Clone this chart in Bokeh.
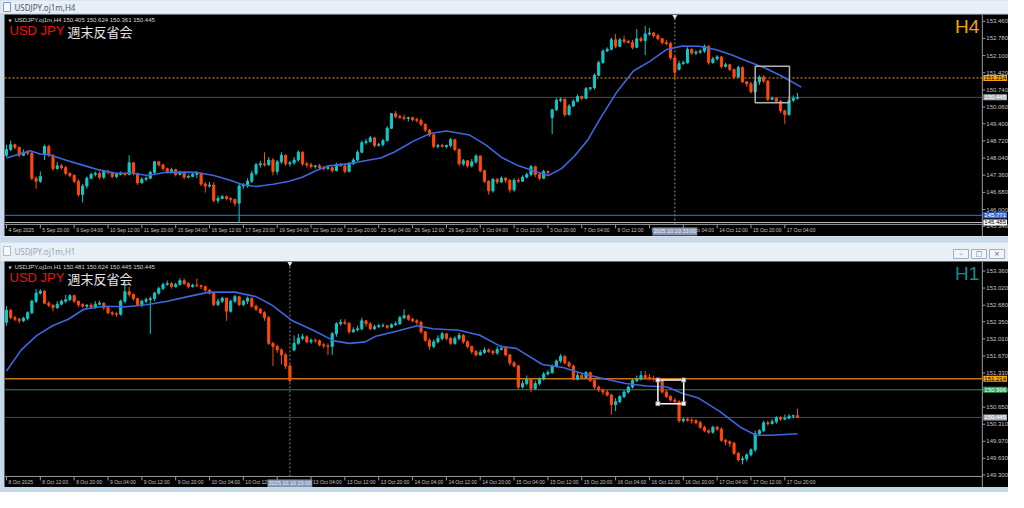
from bokeh.plotting import figure
from bokeh.models import Range1d, Label, LabelSet, ColumnDataSource
from bokeh.layouts import column
from bokeh.embed import file_html
from bokeh.resources import INLINE
from bokeh.core.properties import value

# ---------------- H4 panel data ----------------
h4_open = [148.15,148.38,148.57,148.46,148.15,148.27,148.23,147.24,147.12,148.19,148.50,148.15,147.62,147.73,147.66,147.43,147.35,147.12,146.59,146.93,
147.24,147.39,147.43,147.28,147.51,147.47,147.31,147.39,147.43,147.39,147.85,147.43,147.05,147.20,147.24,147.47,147.89,147.77,147.62,147.51,
147.58,147.39,147.47,147.28,147.31,147.39,147.43,147.01,146.93,146.97,146.36,146.44,146.51,146.44,146.40,146.25,146.93,146.97,147.12,147.43,
147.77,147.81,147.77,147.96,147.51,147.89,148.15,147.81,147.85,147.96,148.27,147.81,147.77,147.70,147.73,147.66,147.62,147.66,147.54,147.77,
147.73,147.51,147.81,147.96,148.27,148.65,148.69,148.84,148.54,148.57,148.73,149.22,149.80,149.68,149.64,149.61,149.64,149.57,149.53,149.38,
149.15,148.96,148.50,148.54,148.50,148.54,148.77,148.38,147.81,147.93,147.73,147.89,148.12,147.54,147.12,146.74,147.20,147.09,147.24,147.16,
146.78,147.16,147.12,147.28,147.39,147.70,147.39,147.24,147.51,149.64,149.95,150.33,150.37,149.76,150.10,150.29,150.48,150.41,150.79,150.83,
151.32,151.82,152.28,152.35,152.73,152.47,152.73,152.66,152.62,152.43,152.77,152.70,152.96,153.00,152.89,152.77,152.62,152.58,152.01,151.55,
151.78,151.82,152.35,152.20,152.24,152.28,152.47,151.82,151.97,152.05,151.67,151.74,151.55,151.25,151.63,151.06,150.98,150.67,151.06,151.25,
151.09,150.37,150.41,150.29,149.91,149.76,150.33,150.41]
h4_high = [148.57,148.73,148.61,148.50,148.38,148.35,148.31,147.31,147.51,148.57,148.57,148.19,147.89,147.81,147.73,147.47,147.39,147.20,147.01,147.31,
147.47,147.51,147.51,147.58,147.58,147.51,147.47,147.51,147.47,148.15,147.89,147.47,147.28,147.31,147.54,147.93,147.93,147.81,147.66,147.66,
147.62,147.54,147.51,147.39,147.47,147.51,147.47,147.09,147.09,147.09,146.55,146.59,146.55,146.48,146.44,147.05,147.05,147.24,147.54,147.85,
147.93,148.27,148.08,148.04,147.96,148.27,148.19,147.93,148.08,148.35,148.31,147.89,147.85,147.77,147.81,147.73,147.73,147.70,147.85,147.85,
147.81,147.89,148.04,148.35,148.73,148.80,148.92,148.88,148.65,148.80,149.30,149.83,149.91,149.76,149.76,149.68,149.68,149.64,149.61,149.41,
149.19,148.99,148.61,148.61,148.57,148.84,148.80,148.42,148.00,147.96,148.00,148.19,148.15,147.58,147.16,147.24,147.24,147.31,147.28,147.20,
147.24,147.24,147.35,147.47,147.77,147.73,147.43,147.58,147.54,149.99,150.41,150.44,150.41,150.18,150.37,150.56,150.52,150.86,150.86,151.40,
151.90,152.35,152.43,152.81,152.96,152.81,152.89,152.73,152.73,153.15,152.85,153.27,153.19,153.04,152.96,152.81,152.73,152.66,152.09,151.90,
151.90,152.43,152.39,152.31,152.35,152.54,152.51,152.05,152.12,152.09,151.82,151.78,151.59,151.70,151.67,151.09,151.06,151.13,151.32,151.32,
151.13,150.48,150.44,150.33,149.95,150.48,150.52,150.62]
h4_low = [148.08,148.31,148.38,148.08,148.12,148.15,147.16,146.82,147.05,147.96,148.08,147.54,147.58,147.58,147.35,147.28,147.05,146.51,146.28,146.82,
147.20,147.31,147.20,147.20,147.39,147.24,147.24,147.35,147.31,147.35,147.35,146.97,147.05,147.12,147.20,147.39,147.70,147.54,147.43,147.47,
147.31,147.35,147.20,147.24,147.28,147.24,146.93,146.67,146.86,146.28,146.25,146.40,146.36,146.28,146.13,145.48,146.82,146.86,147.05,147.35,
147.66,147.70,147.73,147.35,147.39,147.81,147.73,147.70,147.77,147.89,147.73,147.66,147.62,147.62,147.58,147.54,147.58,147.47,147.51,147.70,
147.43,147.47,147.77,147.93,148.23,148.57,148.65,148.46,148.50,148.50,148.69,149.19,149.61,149.61,149.53,149.49,149.49,149.45,149.30,149.07,
148.88,148.42,148.42,148.46,148.42,148.46,148.31,147.73,147.73,147.66,147.66,147.81,147.47,147.05,146.59,146.67,147.01,147.05,147.05,146.67,
146.70,147.05,147.09,147.24,147.31,147.28,147.16,147.20,147.39,148.99,149.91,150.25,149.68,149.72,150.06,150.25,150.33,150.37,150.71,150.75,
151.28,151.78,152.24,152.31,152.39,152.43,152.58,152.58,152.35,152.39,152.62,152.12,152.89,152.81,152.70,152.54,152.51,151.93,151.17,151.51,
151.74,151.78,152.12,152.12,152.16,152.20,151.74,151.78,151.90,151.59,151.63,151.48,151.17,151.21,151.02,150.86,150.60,150.60,150.94,151.02,
150.29,150.33,150.22,149.83,149.38,149.72,150.25,150.36]
h4_close = [148.38,148.57,148.46,148.15,148.27,148.23,147.24,147.12,147.31,148.50,148.15,147.62,147.73,147.66,147.43,147.35,147.12,146.59,146.93,147.24,
147.39,147.43,147.28,147.51,147.47,147.31,147.39,147.43,147.39,147.85,147.43,147.05,147.20,147.24,147.47,147.89,147.77,147.62,147.51,147.58,
147.39,147.47,147.28,147.31,147.39,147.43,147.01,146.93,146.97,146.36,146.44,146.51,146.44,146.40,146.25,146.93,146.97,147.12,147.43,147.77,
147.81,147.77,147.96,147.51,147.89,148.15,147.81,147.85,147.96,148.27,147.81,147.77,147.70,147.73,147.66,147.62,147.66,147.54,147.77,147.73,
147.51,147.81,147.96,148.27,148.65,148.69,148.84,148.54,148.57,148.73,149.22,149.80,149.68,149.64,149.61,149.64,149.57,149.53,149.38,149.15,
148.96,148.50,148.54,148.50,148.54,148.77,148.38,147.81,147.93,147.73,147.89,148.12,147.54,147.12,146.74,147.20,147.09,147.24,147.16,146.78,
147.16,147.12,147.28,147.39,147.70,147.39,147.24,147.51,147.47,149.95,150.33,150.37,149.76,150.10,150.29,150.48,150.41,150.79,150.83,151.32,
151.82,152.28,152.35,152.73,152.47,152.73,152.66,152.62,152.43,152.77,152.70,152.96,153.00,152.89,152.77,152.62,152.58,152.01,151.44,151.78,
151.82,152.35,152.20,152.24,152.28,152.47,151.82,151.97,152.05,151.67,151.74,151.55,151.25,151.63,151.06,150.98,150.67,151.06,151.25,151.09,
150.37,150.41,150.29,149.91,149.76,150.33,150.41,150.445]
h4_ma_idx = [0,5.6,7.9,10.2,14.1,18,21.9,25.7,29.6,33.5,37.4,41.2,45.1,49,52.9,56,59.1,63,66.8,69.9,73,76.1,80,82.3,85.4,88.5,91.6,94,96.3,
100.2,104,109.5,113.3,117.2,121.1,125,128.1,131.2,134.3,137.4,140.5,144.3,148.2,152.1,156,159.8,163.7,167.6,171.5,175.3,179.2,183.1,187.9]
h4_ma = [148.04,148.33,148.20,148.17,147.95,147.76,147.57,147.44,147.44,147.35,147.47,147.48,147.47,147.35,147.16,146.97,146.91,147.00,147.12,147.28,
147.53,147.73,147.80,147.85,147.95,148.04,148.27,148.50,148.72,149.01,149.11,148.95,148.56,148.05,147.73,147.51,147.35,147.62,148.12,148.75,
149.64,150.66,151.49,151.87,152.34,152.48,152.47,152.34,152.12,151.87,151.62,151.30,150.85]
h4_xtick_idx = [0,8,16,24,32,40,48,56,64,72,80,88,96,104,112,120,128,136,144,152,160,168,176,184]
h4_xtick_labels = ["4 Sep 2025","5 Sep 20:00","9 Sep 04:00","10 Sep 12:00","11 Sep 20:00","15 Sep 04:00","16 Sep 12:00","17 Sep 20:00",
"19 Sep 04:00","22 Sep 12:00","23 Sep 20:00","25 Sep 04:00","26 Sep 12:00","29 Sep 20:00","1 Oct 04:00","2 Oct 12:00","3 Oct 20:00",
"7 Oct 04:00","8 Oct 12:00","9 Oct 20:00","13 Oct 04:00","14 Oct 12:00","15 Oct 20:00","17 Oct 04:00"]
h4_yticks = [153.46,152.78,152.10,151.42,150.74,150.06,149.40,148.72,148.04,147.36,146.68,146.00,145.34]
h4_ytick_labels = ["153.460","152.780","152.100","151.420","150.740","150.060","149.400","148.720","148.040","147.360","146.680","146.000","145.340"]
h4_levels = [151.214, 150.445, 145.771, 145.485]
h4_level_text = ["151.214", "150.445", "145.771", "145.485"]
h4_box_idx = [177.0, 185.1]
h4_box_price = [151.68, 150.23]
h4_cross_idx = 158
h4_header = "USDJPY.oj1m,H4  150.405 150.624 150.361 150.445"

# ---------------- H1 panel data ----------------
h1_open = [152.34,152.58,152.43,152.40,152.37,152.42,152.53,152.76,152.92,152.96,152.72,152.68,152.63,152.70,152.76,152.79,152.87,152.76,152.69,152.66,
152.68,152.64,152.70,152.72,152.63,152.53,152.51,152.50,152.76,152.95,152.89,152.81,152.69,152.76,152.79,152.81,152.92,153.01,153.09,153.11,
153.05,153.09,153.17,153.11,153.05,153.08,153.07,153.05,152.98,152.92,152.69,152.76,152.82,152.56,152.76,152.85,152.69,152.76,152.82,152.66,
152.60,152.53,152.43,151.92,151.86,151.79,151.69,151.47,151.79,151.92,152.02,152.05,151.95,151.98,151.97,151.89,151.87,151.86,152.11,152.31,
152.34,152.32,152.15,152.19,152.21,152.37,152.31,152.21,152.25,152.27,152.27,152.24,152.29,152.31,152.43,152.47,152.40,152.37,152.34,152.15,
151.98,151.86,151.95,152.02,152.11,152.02,151.92,152.02,152.08,151.95,151.86,151.76,151.69,151.74,151.79,151.76,151.73,151.80,151.82,151.69,
151.53,151.47,151.05,151.12,151.21,151.02,151.12,151.21,151.31,151.34,151.47,151.57,151.66,151.53,151.47,151.21,151.28,151.24,151.34,151.18,
151.05,150.99,150.95,150.89,150.70,150.76,150.86,150.95,151.05,151.18,151.21,151.28,151.24,151.22,151.21,151.18,150.95,150.86,150.79,150.76,
150.38,150.41,150.39,150.38,150.34,150.25,150.18,150.15,150.25,150.21,149.99,149.96,149.93,149.73,149.60,149.62,149.70,149.80,150.12,150.18,
150.34,150.32,150.36,150.44,150.41,150.43,150.47,150.48]
h1_high = [152.66,152.60,152.47,152.43,152.45,152.56,152.79,153.00,153.00,152.98,152.76,152.70,152.76,152.79,152.89,152.90,152.89,152.77,152.72,152.70,
152.72,152.76,152.77,152.74,152.64,152.56,152.55,152.79,153.14,153.05,152.92,152.83,152.79,152.83,152.85,152.95,153.05,153.13,153.17,153.14,
153.13,153.22,153.21,153.14,153.11,153.21,153.09,153.07,153.00,152.94,152.81,152.85,152.83,152.79,152.89,152.87,152.79,152.85,152.83,152.69,
152.63,152.56,152.47,151.95,151.89,151.82,151.73,151.50,152.08,152.11,152.11,152.08,152.02,152.02,152.00,151.93,151.92,152.15,152.34,152.40,
152.40,152.34,152.24,152.27,152.43,152.38,152.34,152.29,152.31,152.32,152.29,152.32,152.36,152.47,152.60,152.50,152.43,152.40,152.37,152.16,
152.02,152.00,152.08,152.15,152.13,152.05,152.06,152.13,152.11,151.98,151.87,151.79,151.79,151.84,151.82,151.79,151.86,151.87,151.86,151.71,
151.57,151.50,151.18,151.28,151.24,151.18,151.24,151.35,151.39,151.50,151.60,151.71,151.69,151.57,151.50,151.33,151.31,151.37,151.35,151.21,
151.08,151.02,150.99,150.92,150.83,150.89,150.99,151.08,151.21,151.28,151.37,151.37,151.31,151.28,151.24,151.21,150.99,150.89,150.83,150.79,
150.44,150.44,150.43,150.41,150.38,150.28,150.21,150.28,150.28,150.25,150.02,149.99,149.96,149.76,149.67,149.73,149.83,150.18,150.21,150.38,
150.38,150.41,150.47,150.47,150.50,150.51,150.50,150.62]
h1_low = [152.27,152.40,152.36,152.32,152.34,152.38,152.50,152.72,152.89,152.70,152.64,152.56,152.60,152.68,152.72,152.76,152.72,152.64,152.63,152.60,
152.61,152.61,152.68,152.58,152.50,152.47,152.45,152.47,152.72,152.85,152.77,152.66,152.64,152.72,152.11,152.76,152.89,152.98,153.07,153.01,
153.03,153.07,153.08,153.01,153.03,153.04,153.00,152.95,152.89,152.66,152.66,152.72,152.37,152.53,152.72,152.66,152.66,152.70,152.63,152.56,
152.50,152.37,151.89,151.47,151.73,151.50,151.41,151.15,151.76,151.89,151.98,151.92,151.91,151.93,151.86,151.82,151.69,151.69,152.05,152.27,
152.29,152.11,152.13,152.16,152.18,152.25,152.18,152.19,152.23,152.24,152.21,152.22,152.27,152.29,152.40,152.37,152.34,152.29,152.11,151.95,
151.79,151.82,151.92,151.98,151.98,151.89,151.89,151.98,151.91,151.82,151.71,151.66,151.68,151.71,151.73,151.69,151.69,151.78,151.66,151.48,
151.44,151.01,151.02,151.08,150.95,150.99,151.08,151.18,151.28,151.31,151.44,151.53,151.50,151.44,151.18,151.18,151.21,151.21,151.15,151.01,
150.95,150.89,150.86,150.50,150.57,150.73,150.83,150.92,151.02,151.15,151.18,151.21,151.18,151.16,151.13,150.92,150.83,150.76,150.73,150.34,
150.34,150.36,150.32,150.31,150.21,150.15,150.12,150.12,150.18,149.96,149.89,149.86,149.70,149.57,149.51,149.57,149.67,149.76,150.09,150.15,
150.28,150.31,150.32,150.38,150.39,150.41,150.43,150.44]
h1_close = [152.58,152.43,152.40,152.37,152.42,152.53,152.76,152.92,152.96,152.72,152.68,152.63,152.70,152.76,152.79,152.87,152.76,152.69,152.66,152.68,
152.64,152.70,152.72,152.63,152.53,152.51,152.50,152.76,152.95,152.89,152.81,152.69,152.76,152.79,152.81,152.92,153.01,153.09,153.11,153.05,
153.09,153.17,153.11,153.05,153.08,153.07,153.05,152.98,152.92,152.69,152.76,152.82,152.56,152.76,152.85,152.69,152.76,152.82,152.66,152.60,
152.53,152.43,151.92,151.86,151.79,151.69,151.47,151.18,151.92,152.02,152.05,151.95,151.98,151.97,151.89,151.87,151.86,152.11,152.31,152.34,
152.32,152.15,152.19,152.21,152.37,152.31,152.21,152.25,152.27,152.27,152.24,152.29,152.31,152.43,152.47,152.40,152.37,152.34,152.15,151.98,
151.86,151.95,152.02,152.11,152.02,151.92,152.02,152.08,151.95,151.86,151.76,151.69,151.74,151.79,151.76,151.73,151.80,151.82,151.69,151.53,
151.47,151.05,151.12,151.21,151.02,151.12,151.21,151.31,151.34,151.47,151.57,151.66,151.53,151.47,151.21,151.28,151.24,151.34,151.18,151.05,
150.99,150.95,150.89,150.70,150.76,150.86,150.95,151.05,151.18,151.21,151.28,151.24,151.22,151.21,151.18,150.95,150.86,150.79,150.76,150.38,
150.41,150.39,150.38,150.34,150.25,150.18,150.15,150.25,150.21,149.99,149.96,149.93,149.73,149.60,149.62,149.70,149.80,150.12,150.18,150.34,
150.32,150.36,150.44,150.41,150.43,150.47,150.48,150.445]
h1_ma_idx = [0,3.5,7.2,10.9,14.6,18.3,23.2,28.2,33.1,38,42.9,47.9,54,59,62.6,67.6,72.5,77.4,81.1,84.8,87.3,92.2,97.1,100.8,107,111.9,116.8,
120.5,126.7,131.6,136.5,141.5,146.4,151.3,156.2,159.9,163.6,168.5,173.5,177.2,180.9,187]
h1_ma = [151.37,151.79,152.08,152.27,152.40,152.60,152.66,152.65,152.69,152.76,152.85,152.94,152.94,152.85,152.69,152.37,152.18,151.97,151.92,151.95,
152.06,152.16,152.27,152.21,152.18,152.08,151.86,151.82,151.50,151.44,151.31,151.21,151.12,151.07,151.05,150.92,150.83,150.57,150.25,150.09,
150.09,150.12]
h1_xtick_idx = [0,8,16,24,32,40,48,56,64,72,80,88,96,104,112,120,128,136,144,152,160,168,176,184]
h1_xtick_labels = ["8 Oct 2025","8 Oct 12:00","8 Oct 20:00","9 Oct 04:00","9 Oct 12:00","9 Oct 20:00","10 Oct 04:00","10 Oct 12:00",
"10 Oct 20:00","13 Oct 04:00","13 Oct 12:00","13 Oct 20:00","14 Oct 04:00","14 Oct 12:00","14 Oct 20:00","15 Oct 04:00","15 Oct 12:00",
"15 Oct 20:00","16 Oct 04:00","16 Oct 12:00","16 Oct 20:00","17 Oct 04:00","17 Oct 12:00","17 Oct 20:00"]
h1_yticks = [153.36,153.02,152.68,152.35,152.01,151.67,151.33,150.99,150.65,150.31,149.97,149.63,149.30]
h1_ytick_labels = ["153.360","153.020","152.680","152.350","152.010","151.670","151.330","150.990","150.650","150.310","149.970","149.630","149.300"]
h1_levels = [151.214, 150.996, 150.445]
h1_level_text = ["151.214", "150.996", "150.445"]
h1_box_idx = [154.0, 160.1]
h1_box_price = [151.19, 150.72]
h1_cross_idx = 67
h1_header = "USDJPY.oj1m,H1  150.481 150.624 150.445 150.445"
cross_text = "2025.10.10 23:00"

# ---------------- styling ----------------
UP = "#17c6c6"
DN = "#ff4a0a"
MA_COL = "#3f66dc"
AX = "#9a9a9a"
TXT = "#c4c4c4"
FRAME = "#c9d8e9"
TITLE_BG = "#e9eff7"
FONT = "Liberation Sans"
W = 1004
PX_PER_BAR = 4.23
X_LO = -0.47
X_AX = 230.7                      # price-axis line (right edge of the candle area)
X_HI = X_LO + W / PX_PER_BAR


def chart(height, y_bottom, y_axis, y_top, o, hi, lo, c, ma_x, ma_y, yt, ytl, xt, xtl,
          cross, header, tf, tf_col, levels, level_text, level_styles, tag_styles, box_x, box_y, box_col, handles, margin):
    p = figure(width=W, height=height, x_range=Range1d(X_LO, X_HI), y_range=Range1d(y_bottom, y_top),
               output_backend="svg", toolbar_location=None, x_axis_location=None, y_axis_location=None,
               background_fill_color="black", border_fill_color="black", outline_line_color=None,
               min_border=0, margin=margin)
    p.grid.visible = False
    ypx = (y_top - y_bottom) / height          # price units per pixel
    xpx = 1.0 / PX_PER_BAR                      # bar units per pixel

    # axis lines and tick marks (drawn through the figure's own scales)
    p.segment(x0=[X_LO, X_AX], y0=[y_axis, y_bottom], x1=[X_AX, X_AX], y1=[y_axis, y_top], line_color=AX, line_width=1)
    p.segment(x0=[X_AX] * len(yt), y0=yt, x1=[X_AX + 3 * xpx] * len(yt), y1=yt, line_color=AX, line_width=1)
    p.segment(x0=xt, y0=[y_axis] * len(xt), x1=xt, y1=[y_axis - 4 * ypx] * len(xt), line_color=AX, line_width=1)

    # level lines
    for lv, (col, w, dash) in zip(levels, level_styles):
        p.segment(x0=[X_LO], y0=[lv], x1=[X_AX], y1=[lv], line_color=col, line_width=w, line_dash=dash)
    p.segment(x0=[cross], y0=[y_axis], x1=[cross], y1=[y_top], line_color="#8c8c8c", line_width=1, line_dash="2 2")
    p.scatter([cross], [y_top - 2 * ypx], marker="inverted_triangle", size=5, fill_color="#e0e0e0", line_color=None)

    # candles
    idx = list(range(len(o)))
    cols = [UP if cc >= oo else DN for oo, cc in zip(o, c)]
    src = ColumnDataSource(dict(x=idx, h=hi, l=lo, top=[max(a, b) for a, b in zip(o, c)],
                                bot=[min(a, b) for a, b in zip(o, c)], col=cols))
    p.segment("x", "h", "x", "l", source=src, line_color="col", line_width=1)
    p.vbar(x="x", width=0.5, top="top", bottom="bot", source=src, fill_color="col", line_color="col", line_width=1)

    # moving average
    p.line(ma_x, ma_y, line_color=MA_COL, line_width=1.6)

    # drawn rectangle object
    p.quad(left=[box_x[0]], right=[box_x[1]], top=[box_y[0]], bottom=[box_y[1]], fill_color=None,
           line_color=box_col, line_width=1.5)
    if handles:
        p.scatter([box_x[0], box_x[1], box_x[0], box_x[1]], [box_y[0], box_y[0], box_y[1], box_y[1]],
                  marker="square", size=4, fill_color="white", line_color="#909090")

    # texts in the chart window
    p.add_layout(Label(x=X_LO, y=y_top, x_offset=4, y_offset=-3, text="\u25bc", text_font="DejaVu Sans",
                       text_font_size="4px", text_color="#d0d0d0", text_baseline="top"))
    p.add_layout(Label(x=X_LO, y=y_top, x_offset=10, y_offset=-2, text=header, text_font=FONT,
                       text_font_size="6px", text_color="#d6d6d6", text_baseline="top"))
    p.add_layout(Label(x=X_LO, y=y_top, x_offset=5, y_offset=-8, text="USD JPY", text_font=FONT,
                       text_font_size="13px", text_color="#f01010", text_baseline="top"))
    p.add_layout(Label(x=X_LO, y=y_top, x_offset=63, y_offset=-7, text="週末反省会", text_font="Noto Sans CJK JP",
                       text_font_size="13px", text_color="#e2e2e2", text_baseline="top"))
    p.add_layout(Label(x=X_AX, y=y_top, x_offset=-3, y_offset=-1, text=tf, text_font=FONT,
                       text_font_size="19px", text_color=tf_col, text_baseline="top", text_align="right"))

    # price-axis labels
    ysrc = ColumnDataSource(dict(x=[X_AX] * len(yt), y=yt, t=ytl))
    p.add_layout(LabelSet(x="x", y="y", text="t", source=ysrc, x_offset=4, text_baseline="middle",
                          text_align="left", text_font_size="6px", text_color=TXT, text_font=value(FONT)))
    # time-axis labels
    xsrc = ColumnDataSource(dict(x=xt, y=[y_axis] * len(xt), t=xtl))
    p.add_layout(LabelSet(x="x", y="y", text="t", source=xsrc, x_offset=2, y_offset=-3, text_baseline="top",
                          text_align="left", text_font_size="5px", text_color=TXT, text_font=value(FONT)))
    p.add_layout(Label(x=cross, y=y_axis, y_offset=-3, text=cross_text, text_align="center", text_baseline="top",
                       text_font=FONT, text_font_size="5.5px", text_color="#f2f2f2", padding=1,
                       background_fill_color="#8796b2"))

    # price tags
    for lv, t, (bg, fg) in zip(levels, level_text, tag_styles):
        p.add_layout(Label(x=X_AX, y=lv, x_offset=1, text=t, text_baseline="middle", text_align="left",
                           text_font=FONT, text_font_size="6px", text_color=fg, background_fill_color=bg,
                           padding=1))
    return p


def bar_fig(h):
    f = figure(width=1008, height=h, x_range=Range1d(0, 1008), y_range=Range1d(0, h), output_backend="svg",
               toolbar_location=None, x_axis_location=None, y_axis_location=None, min_border=0,
               outline_line_color=None, background_fill_color=TITLE_BG, border_fill_color=TITLE_BG)
    f.grid.visible = False
    return f


# title bar of the H4 window
t1 = bar_fig(14)
t1.quad(left=[0], right=[1008], top=[1], bottom=[0], fill_color="#b8c9dc", line_color=None)
t1.quad(left=[3], right=[10], top=[12], bottom=[3], fill_color="#f6f9fc", line_color="#7b9cc8")
t1.add_layout(Label(x=14, y=7, text="USDJPY.oj1m,H4", text_font="Noto Sans", text_font_size="8px",
                    text_color="#4a5868", text_baseline="middle"))

top = chart(222, 144.93, 145.41, 153.73, h4_open, h4_high, h4_low, h4_close, h4_ma_idx, h4_ma,
            h4_yticks, h4_ytick_labels, h4_xtick_idx, h4_xtick_labels, h4_cross_idx, h4_header, "H4", "#f0a40c",
            h4_levels, h4_level_text,
            [("#e8a020", 1, "2 2"), ("#4a4a4a", 1, "solid"), ("#3b6fe0", 1, "solid"), ("#bdbdbd", 1, "solid")],
            [("#f5a30f", "#000000"), ("#a7afb8", "#ffffff"), ("#3b6fe0", "#ffffff"), ("#ffffff", "#000000")],
            h4_box_idx, h4_box_price, "#b4b4b4", False, (0, 0, 0, 4))

# gap + title bar of the H1 window
t2 = bar_fig(25)
t2.quad(left=[0], right=[1008], top=[25], bottom=[19], fill_color=FRAME, line_color=None)
t2.quad(left=[3], right=[10], top=[15], bottom=[6], fill_color="#f6f9fc", line_color="#a9bcd4")
t2.add_layout(Label(x=14, y=10, text="USDJPY.oj1m,H1", text_font="Noto Sans", text_font_size="8px",
                    text_color="#9aa6b4", text_baseline="middle"))
t2.quad(left=[953, 971, 989], right=[968, 986, 1004], top=[12, 12, 12], bottom=[3, 3, 3],
        fill_color="#f1f5fa", line_color="#9fb0c4")
for bx, sym in zip([960.5, 978.5, 996.5], ["\u2013", "\u25a1", "\u00d7"]):
    t2.add_layout(Label(x=bx, y=7.5, text=sym, text_font="DejaVu Sans", text_font_size="7px",
                        text_color="#55606c", text_align="center", text_baseline="middle"))

bottom = chart(226, 149.05, 149.27, 153.55, h1_open, h1_high, h1_low, h1_close, h1_ma_idx, h1_ma,
               h1_yticks, h1_ytick_labels, h1_xtick_idx, h1_xtick_labels, h1_cross_idx, h1_header, "H1", "#138c8e",
               h1_levels, h1_level_text,
               [("#c27417", 1.5, "solid"), ("#2e8b57", 1, "solid"), ("#4a4a4a", 1, "solid")],
               [("#f5a30f", "#000000"), ("#2fa55a", "#ffffff"), ("#a7afb8", "#ffffff")],
               h1_box_idx, h1_box_price, "#ffffff", True, (0, 0, 5, 4))

layout = column(t1, top, t2, bottom, styles={"background-color": FRAME})
open("out.html", "w").write(file_html(layout, INLINE))
